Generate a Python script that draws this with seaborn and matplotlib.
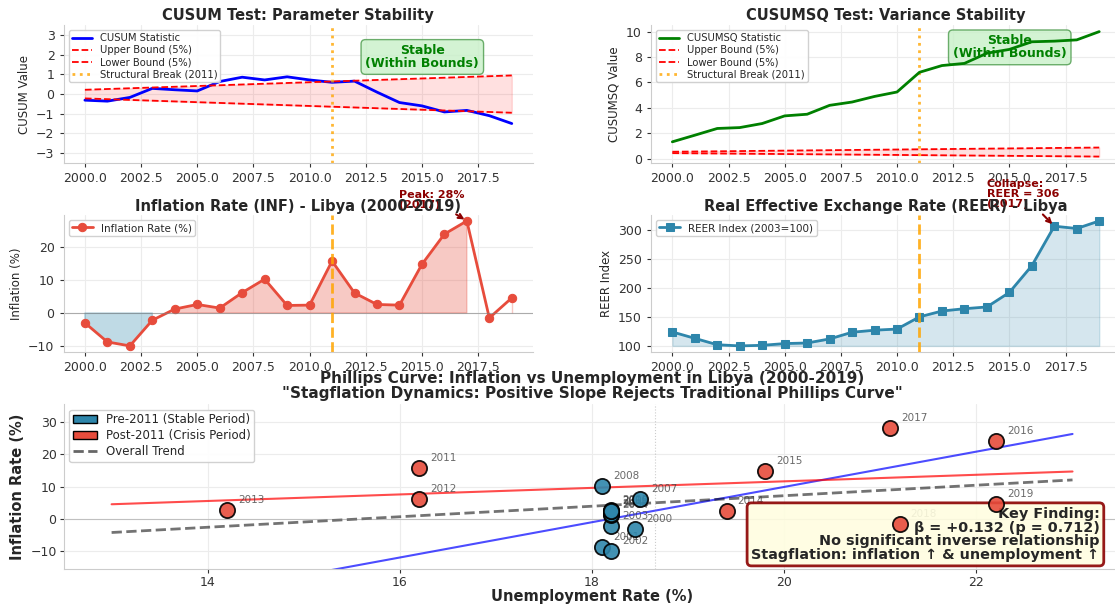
import matplotlib.pyplot as plt
import seaborn as sns
import numpy as np
from matplotlib.patches import Patch
from matplotlib.lines import Line2D
from matplotlib.ticker import MultipleLocator

# Data
years = np.arange(2000, 2020)
cusum = [-0.31, -0.36, -0.17, 0.29, 0.22, 0.16, 0.64, 0.86, 0.72, 0.88,
         0.72, 0.60, 0.66, 0.10, -0.43, -0.60, -0.91, -0.83, -1.10, -1.50]
cusumsq = [1.33, 1.85, 2.38, 2.45, 2.77, 3.37, 3.50, 4.20, 4.46, 4.90,
           5.25, 6.80, 7.33, 7.50, 8.30, 8.60, 9.20, 9.25, 9.35, 10.0]
bound_years = [2000, 2019]
cusum_upper = [0.22, 0.95]
cusum_lower = [-0.22, -0.95]
sq_upper = [0.55, 0.88]
sq_lower = [0.44, 0.17]
inflation = [-3.0, -8.8, -10.0, -2.2, 1.2, 2.6, 1.5, 6.2, 10.3, 2.3,
             2.4, 15.8, 6.1, 2.6, 2.4, 14.8, 24.0, 28.0, -1.5, 4.6]
reer = [124, 113, 102, 100, 101, 104, 105, 112, 123.5, 127,
        129, 150, 160, 164, 167, 192, 238, 306, 302, 315]
unemployment = [18.45, 18.1, 18.2, 18.2, 18.2, 18.2, 18.2, 18.5, 18.1, 18.2,
                18.2, 16.2, 16.2, 14.2, 19.4, 19.8, 22.2, 21.1, 21.2, 22.2]
break_year = 2011
fit_range = np.array([13, 23])

inf_arr = np.array(inflation)
unemp_arr = np.array(unemployment)
pre = years < break_year
post = ~pre

sns.set_style("whitegrid", {"axes.edgecolor": "#cccccc", "grid.color": "#ececec",
                            "xtick.bottom": True, "ytick.left": True})
plt.rcParams['font.family'] = ['DejaVu Sans']
plt.rcParams['xtick.major.size'] = 3
plt.rcParams['ytick.major.size'] = 3
plt.rcParams['xtick.color'] = '#333333'
plt.rcParams['ytick.color'] = '#333333'

fig = plt.figure(figsize=(11.15, 6.04), dpi=100)
gs = fig.add_gridspec(3, 2, left=0.057, right=1.005, top=0.958, bottom=0.058,
                      hspace=0.354, wspace=0.251, height_ratios=[1, 1, 1.2])
ax1 = fig.add_subplot(gs[0, 0])
ax2 = fig.add_subplot(gs[0, 1])
ax3 = fig.add_subplot(gs[1, 0])
ax4 = fig.add_subplot(gs[1, 1])
ax5 = fig.add_subplot(gs[2, :])

stable_box = dict(boxstyle='round,pad=0.35', facecolor='#c8f0c8', edgecolor='#4a9a4a', alpha=0.8)

# CUSUM
sns.lineplot(x=years, y=cusum, color='blue', lw=2, label='CUSUM Statistic', ax=ax1)
ax1.plot(bound_years, cusum_upper, 'r--', lw=1.3, label='Upper Bound (5%)')
ax1.plot(bound_years, cusum_lower, 'r--', lw=1.3, label='Lower Bound (5%)')
ax1.fill_between(bound_years, cusum_lower, cusum_upper, color='red', alpha=0.12)
ax1.axvline(break_year, color='orange', ls=':', lw=2, alpha=0.8, label='Structural Break (2011)')
ax1.set_ylim(-3.5, 3.5)
ax1.yaxis.set_major_locator(MultipleLocator(1))
ax1.set_title("CUSUM Test: Parameter Stability", fontsize=10.5, fontweight='bold', pad=4)
ax1.set_ylabel("CUSUM Value", fontsize=8.5)
ax1.text(0.764, 0.77, "Stable\n(Within Bounds)", transform=ax1.transAxes, ha='center', va='center',
         fontsize=9, fontweight='bold', color='green', linespacing=1.0, bbox=stable_box)
ax1.legend(loc='upper left', fontsize=7.2, framealpha=0.9, labelspacing=0.2, borderpad=0.3)

# CUSUMSQ
sns.lineplot(x=years, y=cusumsq, color='green', lw=2, label='CUSUMSQ Statistic', ax=ax2, zorder=4)
ax2.plot(bound_years, sq_upper, 'r--', lw=1.3, label='Upper Bound (5%)')
ax2.plot(bound_years, sq_lower, 'r--', lw=1.3, label='Lower Bound (5%)')
ax2.fill_between(bound_years, sq_lower, sq_upper, color='red', alpha=0.12)
ax2.axvline(break_year, color='orange', ls=':', lw=2, alpha=0.8, label='Structural Break (2011)')
ax2.yaxis.set_major_locator(MultipleLocator(2))
ax2.set_title("CUSUMSQ Test: Variance Stability", fontsize=10.5, fontweight='bold', pad=4)
ax2.set_ylabel("CUSUMSQ Value", fontsize=8.5)
ax2.text(0.764, 0.84, "Stable\n(Within Bounds)", transform=ax2.transAxes, ha='center', va='center',
         fontsize=9, fontweight='bold', color='green', linespacing=1.0, bbox=stable_box, zorder=3)
ax2.legend(loc='upper left', fontsize=7.2, framealpha=0.9, labelspacing=0.2, borderpad=0.3)

# Inflation
sns.lineplot(x=years, y=inflation, color='#E74C3C', lw=2, marker='o', markersize=6,
             markeredgecolor='#E74C3C', label='Inflation Rate (%)', ax=ax3)
ax3.fill_between(years, inf_arr, 0, where=inf_arr > 0, color='#E74C3C', alpha=0.3)
ax3.fill_between(years, inf_arr, 0, where=inf_arr < 0, color='#2E86AB', alpha=0.3)
ax3.axhline(0, color='gray', lw=0.8, alpha=0.6)
ax3.axvline(break_year, color='orange', ls='--', lw=2, alpha=0.85)
ax3.annotate("Peak: 28%\n(2017)", xy=(2017, inflation[17]), xytext=(2014, 34.5),
             ha='left', va='center', fontsize=8, fontweight='bold', color='darkred', linespacing=1.0,
             arrowprops=dict(arrowstyle='->', color='darkred', lw=1.5), annotation_clip=False)
ax3.set_title("Inflation Rate (INF) - Libya (2000-2019)", fontsize=10.5, fontweight='bold', pad=3)
ax3.set_ylabel("Inflation (%)", fontsize=8.5)
ax3.legend(loc='upper left', fontsize=7.5, framealpha=0.9, borderpad=0.3)

# REER
sns.lineplot(x=years, y=reer, color='#2E86AB', lw=2, marker='s', markersize=6,
             markeredgecolor='#2E86AB', label='REER Index (2003=100)', ax=ax4)
ax4.fill_between(years, reer, min(reer), color='#2E86AB', alpha=0.2)
ax4.axvline(break_year, color='orange', ls='--', lw=2, alpha=0.85)
ax4.annotate("Collapse:\nREER = 306\n(2017)", xy=(2017, reer[17]), xytext=(2014, 361),
             ha='left', va='center', fontsize=8, fontweight='bold', color='darkred', linespacing=1.0,
             arrowprops=dict(arrowstyle='->', color='darkred', lw=1.5), annotation_clip=False)
ax4.set_title("Real Effective Exchange Rate (REER) - Libya", fontsize=10.5, fontweight='bold', pad=3)
ax4.set_ylabel("REER Index", fontsize=8.5)
ax4.legend(loc='upper left', fontsize=7.5, framealpha=0.9, borderpad=0.3)

for ax in [ax1, ax2, ax3, ax4]:
    ax.tick_params(labelsize=9)

# Phillips curve
slope_all, icpt_all = np.polyfit(unemp_arr, inf_arr, 1)
slope_pre, icpt_pre = np.polyfit(unemp_arr[pre], inf_arr[pre], 1)
slope_post, icpt_post = np.polyfit(unemp_arr[post], inf_arr[post], 1)

ax5.plot(fit_range, slope_pre * fit_range + icpt_pre, color='blue', lw=1.5, alpha=0.7)
ax5.plot(fit_range, slope_post * fit_range + icpt_post, color='red', lw=1.5, alpha=0.7)
ax5.plot(fit_range, slope_all * fit_range + icpt_all, color='black', ls='--', lw=2, alpha=0.55)
ax5.axhline(0, color='gray', lw=0.8, alpha=0.4)
ax5.axvline(unemp_arr.mean(), color='gray', ls=':', lw=0.8, alpha=0.4)

sns.scatterplot(x=unemp_arr[pre], y=inf_arr[pre], color='#2E86AB', s=120, edgecolor='black',
                linewidth=1.3, alpha=0.9, ax=ax5, zorder=4)
sns.scatterplot(x=unemp_arr[post], y=inf_arr[post], color='#E74C3C', s=120, edgecolor='black',
                linewidth=1.3, alpha=0.9, ax=ax5, zorder=4)
for yr, u, i in zip(years, unemployment, inflation):
    ax5.annotate(str(yr), (u, i), xytext=(8, 5), textcoords='offset points',
                 fontsize=7.5, color='#444444', alpha=0.8, zorder=2)

ax5.set_ylim(-15.5, 35.5)
ax5.set_title("Phillips Curve: Inflation vs Unemployment in Libya (2000-2019)\n"
              "\"Stagflation Dynamics: Positive Slope Rejects Traditional Phillips Curve\"",
              fontsize=11, fontweight='bold', pad=4, linespacing=1.0)
ax5.set_xlabel("Unemployment Rate (%)", fontsize=10.5, fontweight='bold', labelpad=0)
ax5.set_ylabel("Inflation Rate (%)", fontsize=10.5, fontweight='bold')
ax5.tick_params(labelsize=9, pad=2)

handles = [Patch(facecolor='#2E86AB', edgecolor='black', label='Pre-2011 (Stable Period)'),
           Patch(facecolor='#E74C3C', edgecolor='black', label='Post-2011 (Crisis Period)'),
           Line2D([0], [0], color='black', ls='--', lw=2, alpha=0.6, label='Overall Trend')]
ax5.legend(handles=handles, loc='upper left', fontsize=8.5, framealpha=0.9,
           labelspacing=0.25, borderpad=0.3)

ax5.text(0.98, 0.045, "Key Finding:\n\u03b2 = +0.132 (p = 0.712)\nNo significant inverse relationship\n"
         "Stagflation: inflation \u2191 & unemployment \u2191",
         transform=ax5.transAxes, ha='right', va='bottom', fontsize=10.4, fontweight='bold',
         linespacing=0.95, zorder=3,
         bbox=dict(boxstyle='round,pad=0.3', facecolor='#fffde0', edgecolor='darkred', lw=2, alpha=0.9))

for ax in [ax1, ax2, ax3, ax4, ax5]:
    sns.despine(ax=ax)

fig.savefig('out.png', dpi=100)
